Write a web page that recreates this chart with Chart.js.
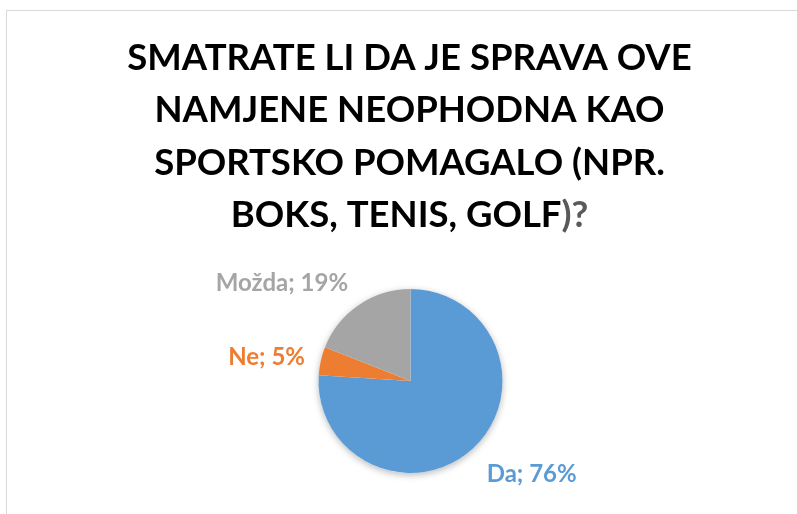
<!DOCTYPE html>
<html>
<head>
<meta charset="utf-8">
<script src="https://cdn.jsdelivr.net/npm/chart.js@4.4.1/dist/chart.umd.min.js"></script>
<style>
  body { margin: 0; background: #fff; overflow: hidden; }
  #okvir { position: absolute; left: 6px; top: 10px; width: 900px; height: 700px; border: 1px solid #d9d9d9; }
  #grafik { position: absolute; left: 0; top: 0; }
</style>
</head>
<body>
<div id="okvir"></div>
<canvas id="grafik" width="797" height="514"></canvas>
<script>
// Podaci
const NASLOV = [
  'SMATRATE LI DA JE SPRAVA OVE',
  'NAMJENE NEOPHODNA KAO',
  'SPORTSKO POMAGALO (NPR.',
  'BOKS, TENIS, GOLF'
];
const NASLOV_KRAJ = ')?';
const ODGOVORI = ['Da', 'Ne', 'Možda'];
const POSTOCI = [76, 5, 19];
const BOJE = ['#5B9BD5', '#ED7D31', '#A5A5A5'];

const PISMO = 'Lato, "Open Sans", sans-serif';

// Naslov crtan rucno zbog sivog ")?" na kraju
const naslovPlugin = {
  id: 'naslov',
  afterDraw(chart) {
    const ctx = chart.ctx;
    ctx.save();
    ctx.font = 'bold 36.5px ' + PISMO;
    ctx.textBaseline = 'alphabetic';
    ctx.textAlign = 'left';
    const sredina = 409.5;
    NASLOV.forEach((red, i) => {
      const y = 70 + i * 52.3;
      const zadnji = i === NASLOV.length - 1;
      const sirina = ctx.measureText(red + (zadnji ? NASLOV_KRAJ : '')).width;
      const x = sredina - sirina / 2;
      ctx.fillStyle = '#000000';
      ctx.fillText(red, x, y);
      if (zadnji) {
        ctx.fillStyle = '#595959';
        ctx.fillText(NASLOV_KRAJ, x + ctx.measureText(red).width, y);
      }
    });
    ctx.restore();
  }
};

// Blaga sjena ispod pite
const sjenaPlugin = {
  id: 'sjena',
  beforeDatasetsDraw(chart) {
    const luk = chart.getDatasetMeta(0).data[0];
    if (!luk) return;
    const { x, y, outerRadius } = luk.getProps(['x', 'y', 'outerRadius'], true);
    const ctx = chart.ctx;
    ctx.save();
    ctx.shadowColor = 'rgba(0,0,0,0.28)';
    ctx.shadowBlur = 7;
    ctx.shadowOffsetY = 2;
    ctx.fillStyle = '#ffffff';
    ctx.beginPath();
    ctx.arc(x, y, outerRadius, 0, Math.PI * 2);
    ctx.fill();
    ctx.restore();
  }
};

// Oznake podataka izvan pite
const oznakePlugin = {
  id: 'oznake',
  afterDatasetsDraw(chart) {
    const ctx = chart.ctx;
    const meta = chart.getDatasetMeta(0);
    const velicina = 24;
    const visinaSlova = velicina * 0.72;
    ctx.save();
    ctx.font = 'bold ' + velicina + 'px ' + PISMO;
    ctx.textBaseline = 'alphabetic';
    meta.data.forEach((luk, i) => {
      const p = luk.getProps(['x', 'y', 'startAngle', 'endAngle', 'outerRadius'], true);
      const kut = (p.startAngle + p.endAngle) / 2;
      const cos = Math.cos(kut), sin = Math.sin(kut);
      let tx = p.x + cos * (p.outerRadius + 12);
      let ty = p.y + sin * (p.outerRadius + 12);
      ctx.textAlign = cos >= 0 ? 'left' : 'right';
      tx += cos >= 0 ? 5 : -4;
      if (sin > 0.5) ty += visinaSlova + 8;
      else if (sin < -0.5) ty -= 3.5;
      else ty += visinaSlova / 2 - 2.3;
      ctx.fillStyle = BOJE[i];
      ctx.fillText(ODGOVORI[i] + '; ' + POSTOCI[i] + '%', tx, ty);
    });
    ctx.restore();
  }
};

new Chart(document.getElementById('grafik').getContext('2d'), {
  type: 'pie',
  data: {
    labels: ODGOVORI,
    datasets: [{
      data: POSTOCI,
      backgroundColor: BOJE,
      borderWidth: 0
    }]
  },
  options: {
    responsive: false,
    animation: false,
    layout: { padding: { top: 289, bottom: 41, left: 318, right: 294 } },
    plugins: {
      legend: { display: false },
      tooltip: { enabled: false },
      title: { display: false }
    }
  },
  plugins: [sjenaPlugin, oznakePlugin, naslovPlugin]
});
</script>
</body>
</html>
